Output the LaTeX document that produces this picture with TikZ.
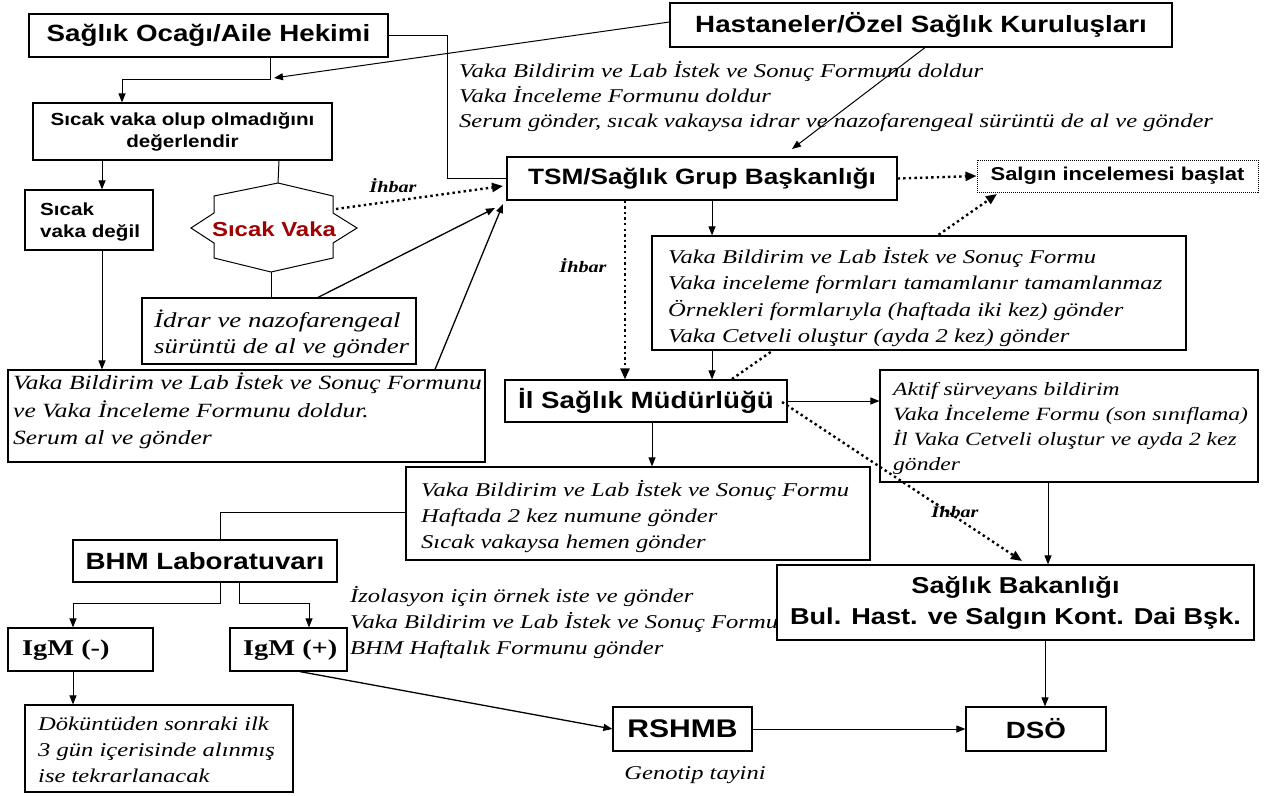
\documentclass[tikz,border=0pt]{standalone}
\usepackage{fontspec}
\setmainfont{Liberation Serif}[FakeStretch=1.26]
\setsansfont{Liberation Sans}[FakeStretch=1.18]
\usetikzlibrary{arrows.meta}
\definecolor{dred}{RGB}{160,0,0}
\begin{document}
\begin{tikzpicture}[x=1pt,y=-1pt,
 box/.style={draw, line width=1.2pt, fill=white, inner sep=0pt, rectangle},
 ttl/.style={font=\sffamily\bfseries\fontsize{23.5}{30}\selectfont, align=center},
 sml/.style={font=\sffamily\bfseries\fontsize{17.5}{22}\selectfont},
 itx/.style={font=\itshape\fontsize{19.5}{26}\selectfont, align=left, inner sep=0pt},
 igm/.style={font=\bfseries\fontsize{22.5}{26}\selectfont, inner sep=0pt},
 arr/.style={line width=1pt, -{Triangle[length=9pt,width=7pt]}},
 ln/.style={line width=1pt},
 dotarr/.style={line width=2.4pt, dash pattern=on 2.4pt off 3.2pt, -{Triangle[length=11pt,width=9pt]}},
 ihbar/.style={font=\bfseries\itshape\fontsize{16}{20}\selectfont}]
\fill[white] (0,0) rectangle (1265,795);
\useasboundingbox (0,0) rectangle (1265,795);

% helper coordinates
\coordinate (c73) at (73,0);
\coordinate (c102) at (102,0);
\coordinate (c122) at (122,0);
\coordinate (c220) at (220,0);
\coordinate (c239) at (239,0);
\coordinate (c270) at (270,0);
\coordinate (c279) at (279,0);
\coordinate (c300) at (300,0);
\coordinate (c309) at (309,0);
\coordinate (c318) at (318,0);
\coordinate (c435) at (435,0);
\coordinate (c447) at (447,0);
\coordinate (c625) at (625,0);
\coordinate (c652) at (652,0);
\coordinate (c712) at (712,0);
\coordinate (c1045) at (1045,0);
\coordinate (c1048) at (1048,0);
\coordinate (r79) at (0,79);
\coordinate (r512) at (0,512);
\coordinate (r603) at (0,603);
\coordinate (j1) at (274,78);
\coordinate (tsmTop) at (792,149);
\coordinate (t1) at (495,208);
\coordinate (t2) at (503,204);
\coordinate (t3) at (503,186);
\coordinate (stR) at (336,209);
\coordinate (stT) at (278,183);
\coordinate (stB) at (271,272);
\coordinate (ilTR) at (732,379);
\coordinate (salB) at (997,194);
\coordinate (ilR) at (782,402);
\coordinate (bakT) at (1022,561);

% boxes
\node[box,ttl,minimum width=359pt,minimum height=43pt] (so) at (208.5,35.5) {Sağlık Ocağı/Aile Hekimi};
\node[box,ttl,minimum width=502pt,minimum height=44pt] (hast) at (921,25) {Hastaneler/Özel Sağlık Kuruluşları};
\node[itx,anchor=north west,font=\itshape\fontsize{19.5}{25}\selectfont] (hastt) at (459,61) {Vaka Bildirim ve Lab İstek ve Sonuç Formunu doldur\\Vaka İnceleme Formunu doldur\\Serum gönder, sıcak vakaysa idrar ve nazofarengeal sürüntü de al ve gönder};

\node[box,sml,align=center,minimum width=299pt,minimum height=57pt] (sv) at (182.5,131.5) {Sıcak vaka olup olmadığını\\değerlendir};
\node[box,ttl,font=\sffamily\bfseries\fontsize{22.2}{30}\selectfont,minimum width=390pt,minimum height=43pt] (tsm) at (702,178.5) {TSM/Sağlık Grup Başkanlığı};
\node[draw, line width=1pt, dash pattern=on 1pt off 1pt, fill=white, sml, font=\sffamily\bfseries\fontsize{18.6}{22}\selectfont, minimum width=281pt, minimum height=32pt, inner sep=0pt] (salgin) at (1117.5,176) {Salgın incelemesi başlat};
\node[box,minimum width=128pt,minimum height=60pt] (svd) at (89,220) {};
\node[sml,align=left,anchor=west,inner sep=0pt] (svdt) at (40,222) {Sıcak\\vaka değil};

% star
\filldraw[fill=white, line width=1pt] (stT) -- (333,196) -- (333,213) -- (357,228) -- (333,243) -- (333,258) -- (stB) -- (214,258) -- (214,243) -- (191,228) -- (214,213) -- (214,196) -- cycle;
\node[font=\sffamily\bfseries\fontsize{20.3}{22}\selectfont, text=dred] (st) at (274,229) {Sıcak Vaka};

\node[box,minimum width=274pt,minimum height=66pt] (idrar) at (279,331) {};
\node[itx,anchor=west,font=\itshape\fontsize{21.3}{25.5}\selectfont] (idrart) at (154,334) {İdrar ve nazofarengeal\\sürüntü de al ve gönder};

\node[box,minimum width=477pt,minimum height=92pt] (lbox) at (246.5,416) {};
\node[itx,anchor=west,font=\itshape\fontsize{20.2}{27.3}\selectfont] (lboxt) at (13,411) {Vaka Bildirim ve Lab İstek ve Sonuç Formunu\\ve Vaka İnceleme Formunu doldur.\\Serum al ve gönder};

% dotted arrow behind box4
\draw[dotarr] (ilTR) -- (salB);

\node[box,minimum width=534pt,minimum height=114pt] (box4) at (919,293) {};
\node[itx,anchor=west,font=\itshape\fontsize{19.5}{26.3}\selectfont] (box4t) at (668,297) {Vaka Bildirim ve Lab İstek ve Sonuç Formu\\Vaka inceleme formları tamamlanır tamamlanmaz\\Örnekleri formlarıyla (haftada iki kez) gönder\\Vaka Cetveli oluştur (ayda 2 kez) gönder};

\node[box,ttl,minimum width=282pt,minimum height=42pt] (il) at (646,401) {İl Sağlık Müdürlüğü};
\node[box,minimum width=378pt,minimum height=112pt] (aktif) at (1069,426) {};
\node[itx,anchor=west,font=\itshape\fontsize{18.7}{25}\selectfont] (aktift) at (893,428) {Aktif sürveyans bildirim\\Vaka İnceleme Formu (son sınıflama)\\İl Vaka Cetveli oluştur ve ayda 2 kez\\gönder};

\node[box,minimum width=464pt,minimum height=93pt] (mid) at (638,513.5) {};
\node[itx,anchor=west] (midt) at (421,517) {Vaka Bildirim ve Lab İstek ve Sonuç Formu\\Haftada 2 kez numune gönder\\Sıcak vakaysa hemen gönder};

\node[box,ttl,minimum width=264pt,minimum height=42pt] (bhm) at (205,561) {BHM Laboratuvarı};

\node[itx,anchor=north west] (izt) at (350,586) {İzolasyon için örnek iste ve gönder\\Vaka Bildirim ve Lab İstek ve Sonuç Formu\\BHM Haftalık Formunu gönder};

\node[box,ttl,font=\sffamily\bfseries\fontsize{23}{31}\selectfont,minimum width=477pt,minimum height=75pt] (bak) at (1015.5,602.5) {Sağlık Bakanlığı\\Bul. Hast. ve Salgın Kont. Dai Bşk.};

\node[box,minimum width=145pt,minimum height=43pt] (igmn) at (80.5,649.5) {};
\node[igm,anchor=west] (igmnt) at (22,650) {IgM (-)};
\node[box,minimum width=117pt,minimum height=43pt] (igmp) at (288.5,649.5) {};
\node[igm,anchor=west] (igmpt) at (243,650) {IgM (+)};
\node[box,minimum width=268pt,minimum height=87pt] (dok) at (159,748.5) {};
\node[itx,anchor=west] (dokt) at (38,750) {Döküntüden sonraki ilk\\3 gün içerisinde alınmış\\ise tekrarlanacak};
\node[box,ttl,font=\sffamily\bfseries\fontsize{25.5}{30}\selectfont,minimum width=139pt,minimum height=44pt] (rshmb) at (682.5,729) {RSHMB};
\node[box,ttl,minimum width=140pt,minimum height=44pt] (dso) at (1036,729) {DSÖ};
\node[itx] (geno) at (695,775) {Genotip tayini};

% connectors
\draw[ln] (so.south -| c270) -- (c270 |- r79) -- (c122 |- r79);
\draw[arr] (c122 |- r79) -- (sv.north -| c122);
\draw[arr] ([yshift=3pt]hast.west) -- (j1);
\draw[ln] (so.east) -| (c447 |- tsm.west) -- (tsm.west);
\draw[arr] ([xshift=4pt]hast.south) -- (tsmTop);
\draw[arr] (sv.south -| c102) -- (svd.north -| c102);
\draw[ln] (sv.south -| c279) -- (stT);
\draw[ln] (stB) -- (idrar.north -| stB);
\draw[arr,line width=1.3pt] (idrar.north -| c318) -- (t1);
\draw[arr,line width=1.3pt] (lbox.north -| c435) -- (t2);
\draw[arr] (svd.south -| c102) -- (lbox.north -| c102);
\draw[dotarr] (stR) -- (t3);
\node[ihbar] (ih1) at (393,186) {İhbar};
\draw[dotarr] (tsm.east) -- (salgin.west);
\draw[arr] (tsm.south -| c712) -- (box4.north -| c712);
\draw[dotarr] (tsm.south -| c625) -- (il.north -| c625);
\node[ihbar] (ih2) at (583,266) {İhbar};
\draw[arr] (box4.south -| c712) -- (il.north -| c712);
\draw[arr] (il.east) -- (aktif.west |- il.east);
\draw[dotarr] (ilR) -- (bakT);
\node[ihbar] (ih3) at (955,511) {İhbar};
\draw[arr] (aktif.south -| c1048) -- (bak.north -| c1048);
\draw[arr] (il.south -| c652) -- (mid.north -| c652);
\draw[ln] (mid.west |- r512) -| (bhm.north -| c220);
\draw[arr] (bhm.south -| c220) -- (c220 |- r603) -| (igmn.north -| c73);
\draw[arr] (bhm.south -| c239) -- (c239 |- r603) -| (igmp.north -| c309);
\draw[arr] (igmn.south -| c73) -- (dok.north -| c73);
\draw[arr,line width=1.3pt] (igmp.south -| c300) -- (rshmb.west);
\draw[arr] (rshmb.east) -- (dso.west);
\draw[arr] (bak.south -| c1045) -- (dso.north -| c1045);
\end{tikzpicture}
\end{document}
